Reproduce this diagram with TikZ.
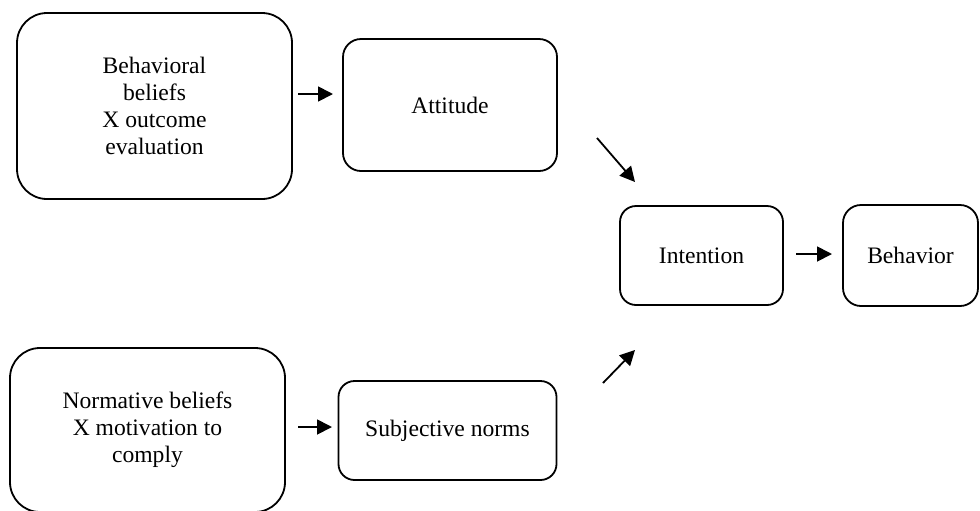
\documentclass[tikz,border=0pt]{standalone}
\usepackage{fontspec}
\setmainfont{Liberation Serif}
\usetikzlibrary{arrows.meta}
\tikzstyle{bigbox} = [rectangle, rounded corners=15pt, draw=black, line width=0.9pt, inner sep=2pt, align=center, font=\fontsize{11.8}{13.6}\selectfont]
\tikzstyle{box} = [bigbox, rounded corners=9pt]
\tikzstyle{arr} = [-{Triangle[length=7.5pt,width=7.5pt]}, line width=0.9pt]

\begin{document}
\begin{tikzpicture}[x=0.5pt, y=-0.5pt]
  \useasboundingbox (0,0) rectangle (980,510);
  \clip (0,0) rectangle (980,510);

  \node (beliefs) [bigbox, minimum width=137.5pt, minimum height=93pt] at (154.5,106)
    {Behavioral\\beliefs\\X outcome\\evaluation};
  \node (attitude) [box, minimum width=107pt, minimum height=66pt] at (450,105) {Attitude};
  \node (intention) [box, rounded corners=8pt, minimum width=81.5pt, minimum height=49.5pt] at (701.5,255.5) {Intention};
  \node (behavior) [box, minimum width=67.5pt, minimum height=50.5pt] at (910.5,255.5) {Behavior};
  \node (normative) [bigbox, minimum width=137.5pt, minimum height=82pt] at (147.5,430)
    {Normative beliefs\\X motivation to\\comply};
  \node (norms) [box, rounded corners=8pt, minimum width=109pt, minimum height=49.5pt] at (447.5,430.5) {Subjective norms};

  % arrow ends between the boxes
  \coordinate (bel-att-s) at (298,94);
  \coordinate (bel-att-e) at (333,94);
  \coordinate (att-int-s) at (597,138);
  \coordinate (att-int-e) at (635,182);
  \coordinate (nor-int-s) at (603,383);
  \coordinate (nor-int-e) at (635,350);
  \coordinate (int-beh-s) at (796,254);
  \coordinate (int-beh-e) at (832,254);
  \coordinate (nb-nor-s) at (298,427);
  \coordinate (nb-nor-e) at (332,427);

  \draw[arr] (bel-att-s) -- (bel-att-e);
  \draw[arr] (att-int-s) -- (att-int-e);
  \draw[arr] (nor-int-s) -- (nor-int-e);
  \draw[arr] (int-beh-s) -- (int-beh-e);
  \draw[arr] (nb-nor-s) -- (nb-nor-e);
\end{tikzpicture}
\end{document}
